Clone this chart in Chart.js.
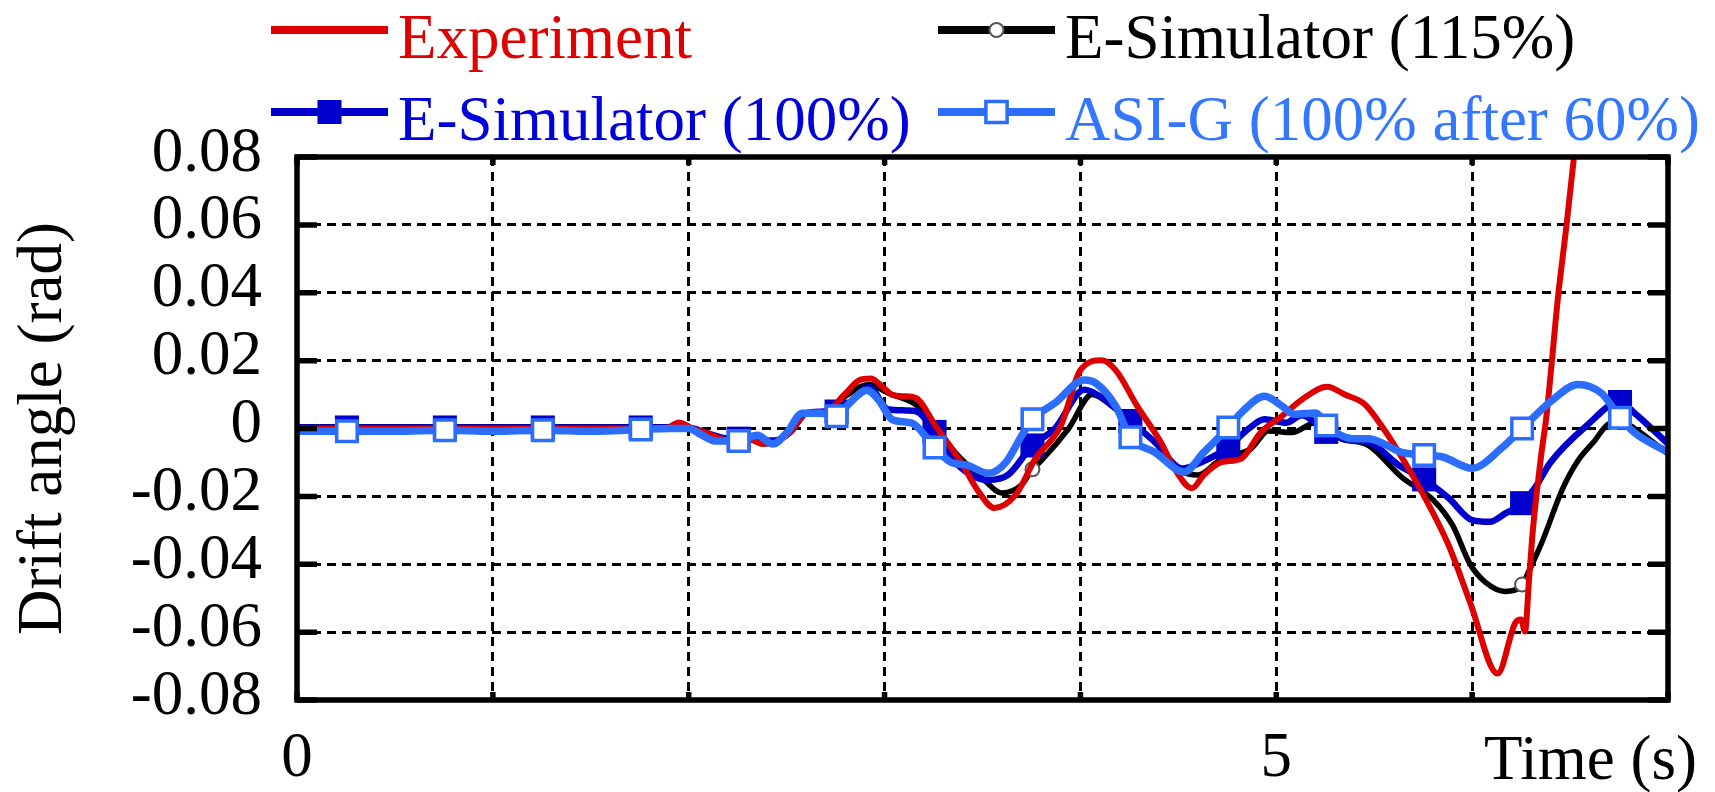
<!DOCTYPE html>
<html>
<head>
<meta charset="utf-8">
<script src="https://cdn.jsdelivr.net/npm/chart.js@4.4.1/dist/chart.umd.min.js"></script>
<style>
  html, body { margin: 0; padding: 0; background: #fff; }
  #wrap { width: 1715px; height: 792px; }
</style>
</head>
<body>
<div id="wrap"><canvas id="chart" width="1715" height="792"></canvas></div>
<script>
'use strict';
// ---------- Drift angle time history ----------

// Experiment (red)
const expT = [0, 1.88, 1.95, 2.02, 2.1, 2.2, 2.3, 2.38, 2.44, 2.52, 2.6, 2.7, 2.8, 2.87, 2.93, 2.98, 3.04, 3.1, 3.16, 3.26,
    3.39, 3.48, 3.56, 3.67, 3.77, 3.9, 4.0, 4.11, 4.18, 4.29, 4.41, 4.48, 4.57, 4.63, 4.72, 4.82, 4.92, 5.03, 5.13, 5.26,
    5.35, 5.45, 5.54, 5.64, 5.76, 5.88, 5.99, 6.13, 6.22, 6.25, 6.27, 6.29, 6.31, 6.35, 6.38, 6.44, 6.48, 6.52, 6.56];
const expV = [0, 0, 0.0018, 0, -0.0015, -0.0035, -0.003, -0.0045, -0.004, -0.001, 0.0045, 0.005, 0.0103, 0.0142, 0.0147, 0.0128, 0.0099, 0.0095, 0.009, 0.0008,
    -0.0099, -0.0186, -0.0234, -0.0195, -0.0089, 0.0008, 0.0172, 0.0201, 0.0172, 0.0066, -0.004, -0.0118, -0.0176, -0.0137, -0.0099, -0.0089, -0.0012, 0.0037, 0.0085, 0.0123,
    0.01, 0.0072, 0.0006, -0.0084, -0.0205, -0.0344, -0.0513, -0.0722, -0.0573, -0.0563, -0.0598, -0.045, -0.03, -0.009, 0.004, 0.0396, 0.059, 0.08, 0.1];

// E-Simulator (115%) (black)
const sim115T = [0, 1.255, 1.9, 2.02, 2.1, 2.2, 2.3, 2.38, 2.44, 2.52, 2.6, 2.7, 2.8, 2.92, 3.02, 3.16, 3.22, 3.36, 3.5, 3.6,
    3.7, 3.755, 3.8, 3.94, 4.06, 4.16, 4.24, 4.38, 4.52, 4.6, 4.72, 4.87, 4.96, 5.08, 5.2, 5.33, 5.47, 5.64, 5.8, 5.9,
    5.99, 6.07, 6.17, 6.255, 6.29, 6.36, 6.46, 6.54, 6.62, 6.7, 6.76, 6.83, 7.0];
const sim115V = [0.0005, 0.0005, 0.0005, 0, -0.0015, -0.0035, -0.003, -0.0045, -0.004, -0.001, 0.0045, 0.005, 0.0095, 0.013, 0.0104, 0.007, 0.0037, -0.007, -0.0147, -0.019,
    -0.0166, -0.012, -0.0095, 0, 0.01, 0.0066, 0.0027, -0.004, -0.0128, -0.0137, -0.0089, -0.006, -0.0007, -0.0012, 0.0017, -0.003, -0.005, -0.0143, -0.021, -0.0285,
    -0.04, -0.0454, -0.048, -0.046, -0.042, -0.033, -0.018, -0.0095, -0.004, 0.0015, 0.002, 0, -0.0075];

// E-Simulator (100%) (blue)
const sim100T = [0, 0.255, 0.755, 1.255, 1.755, 1.9, 2.02, 2.1, 2.2, 2.255, 2.3, 2.38, 2.44, 2.52, 2.6, 2.7, 2.755, 2.82, 2.92, 3.02,
    3.16, 3.255, 3.36, 3.53, 3.63, 3.755, 3.87, 4.02, 4.1, 4.255, 4.38, 4.52, 4.62, 4.755, 4.86, 4.94, 5.05, 5.13, 5.255, 5.38,
    5.47, 5.63, 5.755, 5.88, 6.0, 6.09, 6.17, 6.255, 6.32, 6.4, 6.58, 6.755, 6.83, 7.0];
const sim100V = [0.0003, 0.0003, 0.0003, 0.0003, 0.0003, 0.0003, 0, -0.0015, -0.003, -0.003, -0.003, -0.0035, -0.0035, -0.001, 0.0045, 0.005, 0.005, 0.0075, 0.0122, 0.0056,
    0.0051, -0.001, -0.0099, -0.0152, -0.0137, -0.005, 0, 0.0114, 0.0095, 0.0022, -0.004, -0.0118, -0.0099, -0.0055, 0, 0.0027, 0.0017, 0.0039, -0.001, -0.0035,
    -0.004, -0.011, -0.015, -0.0205, -0.027, -0.0275, -0.025, -0.022, -0.0175, -0.01, 0.0006, 0.0078, 0.0045, -0.0045];

// ASI-G (100% after 60%) (light blue)
const asiT = [0, 0.255, 0.5, 0.755, 1.0, 1.255, 1.5, 1.755, 1.9, 2.0, 2.06, 2.14, 2.255, 2.35, 2.43, 2.5, 2.58, 2.67, 2.755, 2.82,
    2.91, 2.97, 3.04, 3.14, 3.255, 3.34, 3.42, 3.53, 3.62, 3.7, 3.755, 3.87, 4.02, 4.08, 4.18, 4.255, 4.38, 4.53, 4.63, 4.755,
    4.82, 4.94, 5.03, 5.09, 5.2, 5.255, 5.39, 5.47, 5.64, 5.755, 5.85, 6.0, 6.15, 6.255, 6.41, 6.54, 6.66, 6.755, 6.83, 7.0];
const asiV = [-0.0008, -0.0008, -0.0008, -0.0005, -0.0008, -0.0005, -0.0008, -0.0003, 0, 0, -0.0017, -0.0037, -0.0037, -0.002, -0.0046, -0.0013, 0.0045, 0.0045, 0.0036, 0.0074,
    0.0113, 0.0084, 0.0026, 0.0016, -0.0056, -0.01, -0.0108, -0.0132, -0.0099, -0.0021, 0.0027, 0.0075, 0.0143, 0.0133, 0.0066, -0.0026, -0.007, -0.0128, -0.007, 0.0003,
    0.0046, 0.0095, 0.0066, 0.0042, 0.0046, 0.0009, -0.003, -0.003, -0.007, -0.0078, -0.0084, -0.0117, -0.0058, 0, 0.0084, 0.013, 0.0104, 0.0032, -0.0013, -0.007];

// marker times
const squareT = [0.255, 0.755, 1.255, 1.755, 2.255, 2.755, 3.255, 3.755, 4.255, 4.755, 5.255, 5.755, 6.255, 6.755];
const circleT = [1.255, 3.755, 6.255];

// axis
const xTickLabels = { 0: '0', 5: '5' };
const xTitle = 'Time (s)';
const yTitle = 'Drift angle (rad)';

const FONT = '"Liberation Serif", "Times New Roman", serif';
const FONT_SIZE = 63;

const zip = (ts, vs) => ts.map((t, i) => ({ x: t, y: vs[i] }));
const markAt = (times, r) => c => times.includes(c.raw.x) ? r : 0;

const datasets = [
    {
        label: 'Experiment',
        data: zip(expT, expV),
        borderColor: '#dd0000',
        borderWidth: 6,
        pointRadius: 0,
        textColor: '#e00000',
        order: 1,
    },
    {
        label: 'E-Simulator (115%)',
        data: zip(sim115T, sim115V),
        borderColor: '#000000',
        borderWidth: 5.5,
        pointStyle: 'circle',
        pointRadius: markAt(circleT, 7),
        pointBorderColor: '#555555',
        pointBackgroundColor: '#ffffff',
        pointBorderWidth: 2,
        textColor: '#000000',
        legendRadius: 7,
        order: 3,
    },
    {
        label: 'E-Simulator (100%)',
        data: zip(sim100T, sim100V),
        borderColor: '#0000cc',
        borderWidth: 6.5,
        pointStyle: 'rect',
        pointRadius: markAt(squareT, 17),
        pointBorderWidth: 0,
        pointBackgroundColor: '#0000cc',
        pointBorderColor: '#0000cc',
        textColor: '#0000dd',
        legendRadius: 17,
        order: 2,
    },
    {
        label: 'ASI-G (100% after 60%)',
        data: zip(asiT, asiV),
        borderColor: '#2a6dff',
        borderWidth: 7.5,
        pointStyle: 'rect',
        pointRadius: markAt(squareT, 14.5),
        pointBorderWidth: 3.5,
        pointBackgroundColor: '#ffffff',
        pointBorderColor: '#2a6dff',
        textColor: '#3377ff',
        legendRadius: 15,
        order: 0,
    },
];
datasets.forEach(d => { d.fill = false; d.cubicInterpolationMode = 'monotone'; d.pointHoverRadius = 0; });

// frame with inward ticks, legend and the x-axis caption
const decorPlugin = {
    id: 'decor',
    afterDatasetsDraw(chart) {
        const { ctx, chartArea: a, scales: { x, y } } = chart;
        ctx.save();
        ctx.strokeStyle = '#000';
        ctx.lineWidth = 5.5;
        ctx.setLineDash([]);
        ctx.strokeRect(a.left, a.top, a.right - a.left, a.bottom - a.top);
        ctx.beginPath();
        y.ticks.forEach(t => {
            const py = y.getPixelForValue(t.value);
            ctx.moveTo(a.left, py);  ctx.lineTo(a.left + 20, py);
            ctx.moveTo(a.right, py); ctx.lineTo(a.right - 20, py);
        });
        x.ticks.forEach(t => {
            const px = x.getPixelForValue(t.value);
            ctx.moveTo(px, a.bottom); ctx.lineTo(px, a.bottom - 8);
            ctx.moveTo(px, a.top);    ctx.lineTo(px, a.top + 8);
        });
        ctx.stroke();
        ctx.restore();
    },
    afterDraw(chart) {
        const { ctx, chartArea: a } = chart;
        ctx.save();
        ctx.font = `${FONT_SIZE}px ${FONT}`;
        ctx.textBaseline = 'alphabetic';

        // x caption sits on the tick-label line
        ctx.fillStyle = '#000';
        ctx.textAlign = 'right';
        ctx.fillText(xTitle, a.right + 29, 779);

        // legend: 2 columns x 2 rows
        const colX = [271, 938], rowY = [30, 112], sampleW = 117;
        ctx.textAlign = 'left';
        chart.data.datasets.forEach((d, i) => {
            const x0 = colX[i % 2], yl = rowY[Math.floor(i / 2)];
            ctx.strokeStyle = d.borderColor;
            ctx.lineWidth = 8;
            ctx.beginPath();
            ctx.moveTo(x0, yl);
            ctx.lineTo(x0 + sampleW, yl);
            ctx.stroke();
            if (d.legendRadius) {
                ctx.fillStyle = d.pointBackgroundColor;
                ctx.strokeStyle = d.pointBorderColor;
                ctx.lineWidth = d.pointBorderWidth;
                Chart.helpers.drawPoint(ctx, {
                    pointStyle: d.pointStyle, radius: d.legendRadius,
                    borderWidth: d.pointBorderWidth, rotation: 0,
                }, x0 + sampleW / 2, yl);
            }
            ctx.fillStyle = d.textColor;
            ctx.fillText(d.label, x0 + sampleW + 10, yl + 28);
        });
        ctx.restore();
    },
};

const gridStyle = { color: '#000', lineWidth: 3, drawTicks: false };
const borderStyle = { display: false, dash: [9, 6] };
const tickFont = { family: FONT, size: FONT_SIZE };

new Chart(document.getElementById('chart'), {
    type: 'line',
    data: { datasets },
    options: {
        responsive: false,
        animation: false,
        events: [],
        layout: { padding: { left: 0, right: 47, top: 157, bottom: 0 } },
        plugins: { legend: { display: false }, tooltip: { enabled: false } },
        scales: {
            x: {
                type: 'linear',
                min: 0, max: 7,
                afterFit: s => { s.height = 92; },
                grid: gridStyle,
                border: borderStyle,
                ticks: {
                    stepSize: 1, autoSkip: false, maxRotation: 0,
                    padding: 22, color: '#000', font: tickFont,
                    callback: v => xTickLabels[v] ?? '',
                },
            },
            y: {
                type: 'linear',
                min: -0.08, max: 0.08,
                afterFit: s => { s.width = 297; },
                grid: gridStyle,
                border: borderStyle,
                ticks: {
                    stepSize: 0.02, autoSkip: false, padding: 35, labelOffset: -3,
                    color: '#000', font: tickFont,
                    callback: v => {
                        const r = Math.round(v * 100) / 100;
                        return r === 0 ? '0' : r.toFixed(2);
                    },
                },
                title: {
                    display: true, text: yTitle, color: '#000',
                    font: tickFont, padding: { top: 7, bottom: 0 },
                },
            },
        },
    },
    plugins: [decorPlugin],
});
</script>
</body>
</html>
